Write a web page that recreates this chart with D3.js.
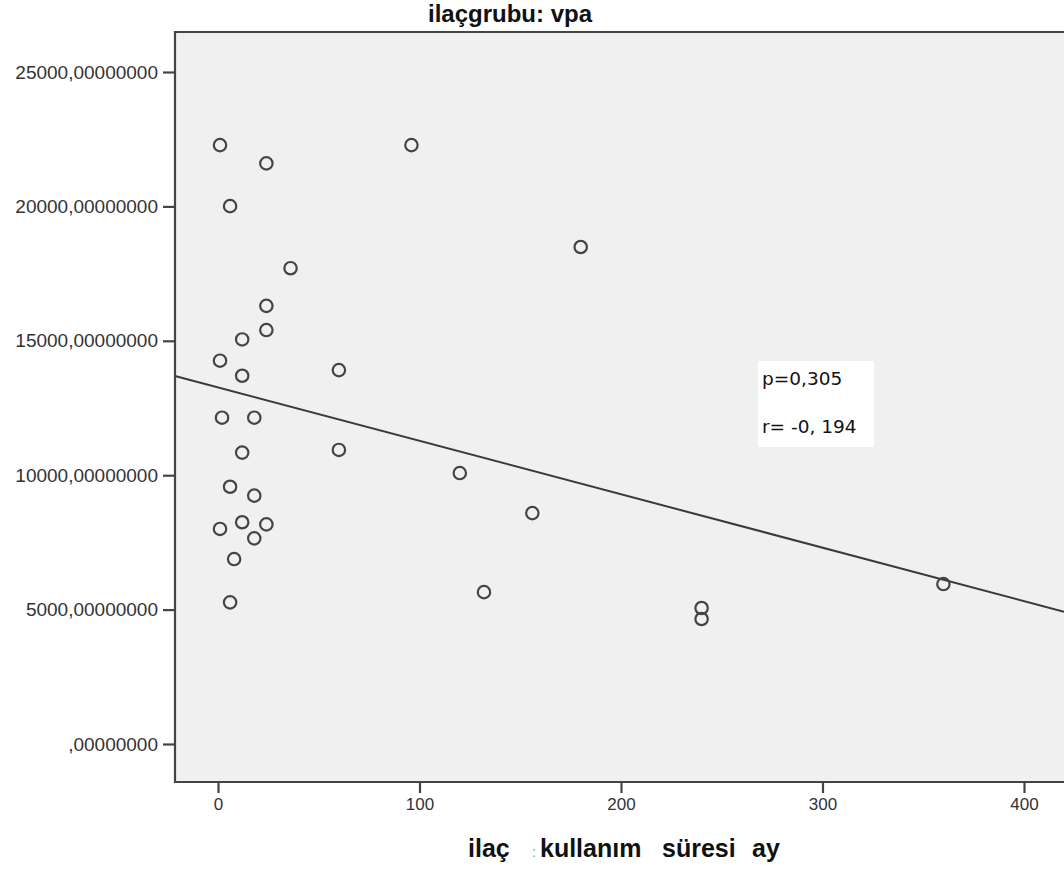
<!DOCTYPE html>
<html>
<head>
<meta charset="utf-8">
<script src="https://cdn.jsdelivr.net/npm/d3@7"></script>
<style>
  body { margin: 0; background: #fff; }
  svg { display: block; font-family: Arial, "Liberation Sans", sans-serif; }
</style>
</head>
<body>
<div id="chart"></div>
<script>
const months = [1, 24, 6, 36, 24, 24, 12, 1, 12, 2, 18, 12, 6, 18, 12, 1, 24, 18, 8, 6,
                60, 60, 96, 120, 156, 132, 180, 240, 240, 360];
const values = [22280, 21600, 20010, 17700, 16300, 15400, 15050, 14260, 13700, 12140,
                12140, 10840, 9570, 9240, 8250, 8000, 8170, 7650, 6880, 5270,
                13910, 10940, 22280, 10080, 8590, 5650, 18490, 5060, 4650, 5950];
const xTicks = [0, 100, 200, 300, 400];
const yTicks = [0, 5000, 10000, 15000, 20000, 25000];
const statLines = ["p=0,305", "r= -0, 194"];

const W = 1064, H = 874;
const frame = {left: 175, top: 32, bottom: 782};
const font = "Arial, 'Liberation Sans', sans-serif";

const svg = d3.select("#chart").append("svg")
  .attr("width", W).attr("height", H);

const x = d3.scaleLinear().domain([0, 400]).range([218, 1024]);
const y = d3.scaleLinear().domain([0, 25000]).range([744, 72]);

// plot background
svg.append("rect")
  .attr("x", frame.left).attr("y", frame.top)
  .attr("width", W - frame.left + 5).attr("height", frame.bottom - frame.top)
  .attr("fill", "#f0f0f0");

// least squares fit line
const mx = d3.mean(months), my = d3.mean(values);
const sxy = d3.sum(months, (d, i) => (d - mx) * (values[i] - my));
const sxx = d3.sum(months, d => (d - mx) * (d - mx));
const slope = sxy / sxx, icpt = my - slope * mx;
const x0 = x.invert(frame.left), x1 = x.invert(W);
svg.append("line")
  .attr("x1", x(x0)).attr("y1", y(icpt + slope * x0))
  .attr("x2", x(x1)).attr("y2", y(icpt + slope * x1))
  .attr("stroke", "#3a3a3a").attr("stroke-width", 2);

// stats box
const box = svg.append("g").attr("transform", "translate(758,361)");
box.append("rect").attr("width", 116).attr("height", 86).attr("fill", "#fff");
box.selectAll("text").data(statLines).enter().append("text")
  .attr("x", 4).attr("y", (d, i) => 24 + i * 48)
  .attr("font-family", "'DejaVu Sans', sans-serif")
  .attr("font-size", 18.5).attr("fill", "#111")
  .text(d => d);

// points
svg.selectAll(".pt")
  .data(months)
  .enter()
  .append("circle")
  .attr("cx", d => x(d))
  .attr("cy", (d, i) => y(values[i]))
  .attr("r", 6.2)
  .attr("fill", "none")
  .attr("stroke", "#444")
  .attr("stroke-width", 2.2);

// frame
svg.append("path")
  .attr("d", `M${W + 5},${frame.top}H${frame.left}V${frame.bottom}H${W + 5}`)
  .attr("fill", "none").attr("stroke", "#444").attr("stroke-width", 2.2);

// y axis
const yAxis = svg.append("g")
  .attr("transform", `translate(${frame.left},0)`)
  .call(d3.axisLeft(y).tickValues(yTicks).tickSize(12).tickPadding(5)
    .tickFormat(d => (d === 0 ? "" : d) + ",00000000"));
yAxis.select(".domain").remove();
yAxis.selectAll("line").attr("stroke", "#444").attr("stroke-width", 2.2);
yAxis.selectAll("text").attr("font-size", 19).attr("fill", "#333")
  .attr("font-family", font);

// x axis
const xAxis = svg.append("g")
  .attr("transform", `translate(0,${frame.bottom})`)
  .call(d3.axisBottom(x).tickValues(xTicks).tickSize(11).tickPadding(5));
xAxis.select(".domain").remove();
xAxis.selectAll("line").attr("stroke", "#444").attr("stroke-width", 2.2);
xAxis.selectAll("text").attr("font-size", 17).attr("fill", "#333")
  .attr("font-family", font);

// title
svg.append("text")
  .attr("x", 510).attr("y", 22)
  .attr("text-anchor", "middle")
  .attr("font-size", 24).attr("font-weight", "bold").attr("fill", "#111")
  .text("ilaçgrubu: vpa");

// x axis title
const xt = svg.append("text")
  .attr("y", 857)
  .attr("font-size", 25).attr("font-weight", "bold").attr("fill", "#111");
xt.append("tspan").attr("x", 468).text("ilaç");
xt.append("tspan").attr("x", 532).attr("font-size", 14).attr("fill", "#999")
  .attr("font-weight", "normal").text(":");
xt.append("tspan").attr("x", 540).text("kullanım");
xt.append("tspan").attr("x", 662).text("süresi");
xt.append("tspan").attr("x", 752).text("ay");
</script>
</body>
</html>
